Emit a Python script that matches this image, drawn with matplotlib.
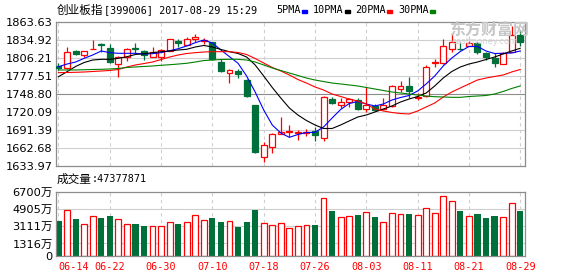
import numpy as np
import matplotlib.pyplot as plt
from matplotlib.patches import Rectangle

plt.rcParams['font.family'] = ['DejaVu Sans', 'Noto Sans CJK SC']

# daily candles, 2017-06-14 .. 2017-08-29
opens = [1794.2, 1789.8, 1817.4, 1810.5, 1820.1, 1829.0, 1821.7, 1796.6, 1807.3, 1822.6,
         1817.4, 1808.3, 1808.3, 1817.9, 1833.8, 1826.9, 1836.0, 1833.3, 1831.3, 1799.8,
         1782.3, 1785.0, 1771.1, 1731.2, 1647.8, 1663.8, 1684.5, 1687.7, 1686.1, 1687.1,
         1690.3, 1678.1, 1740.8, 1731.7, 1736.5, 1739.2, 1724.9, 1730.1, 1724.4, 1729.7,
         1756.8, 1761.1, 1741.9, 1745.6, 1798.2, 1797.8, 1820.1, 1821.0, 1825.3, 1829.6,
         1813.7, 1805.7, 1796.2, 1816.3, 1842.9]
highs = [1798.2, 1824.2, 1819.0, 1818.0, 1834.9, 1830.6, 1829.0, 1809.4, 1822.6, 1830.1,
         1819.0, 1824.2, 1820.6, 1836.5, 1836.0, 1839.2, 1844.0, 1837.6, 1832.2, 1805.1,
         1788.2, 1788.2, 1772.2, 1731.7, 1671.7, 1686.6, 1712.6, 1699.4, 1691.4, 1693.0,
         1696.6, 1745.6, 1743.5, 1741.9, 1742.9, 1742.9, 1759.5, 1732.4, 1742.9, 1763.1,
         1769.5, 1776.4, 1749.9, 1795.0, 1804.1, 1836.5, 1845.6, 1832.2, 1833.3, 1831.3,
         1816.3, 1813.7, 1816.3, 1857.7, 1850.9]
lows = [1787.1, 1789.0, 1810.5, 1808.3, 1820.1, 1816.3, 1798.2, 1776.4, 1801.9, 1814.7,
        1803.0, 1808.3, 1801.4, 1817.4, 1824.2, 1826.9, 1831.3, 1828.1, 1803.0, 1783.9,
        1765.9, 1774.8, 1743.5, 1655.2, 1640.8, 1654.2, 1684.5, 1680.7, 1675.4, 1681.8,
        1674.3, 1674.3, 1732.4, 1726.0, 1728.5, 1723.3, 1720.6, 1721.2, 1723.3, 1728.5,
        1752.5, 1741.9, 1739.2, 1744.5, 1792.3, 1796.6, 1816.3, 1819.0, 1825.3, 1812.1,
        1803.0, 1792.3, 1796.2, 1815.3, 1825.3]
closes = [1790.3, 1815.3, 1812.1, 1817.4, 1821.0, 1826.5, 1799.4, 1807.8, 1821.0, 1820.6,
          1810.5, 1816.3, 1819.0, 1836.0, 1830.6, 1836.0, 1840.2, 1834.4, 1804.1, 1785.0,
          1787.1, 1780.2, 1745.6, 1656.8, 1666.9, 1685.0, 1688.2, 1689.8, 1687.7, 1688.7,
          1683.0, 1743.5, 1734.4, 1736.0, 1740.3, 1725.4, 1731.2, 1723.3, 1731.2, 1762.0,
          1762.0, 1753.6, 1744.0, 1792.3, 1799.8, 1825.3, 1832.2, 1820.1, 1829.6, 1816.3,
          1808.3, 1797.8, 1814.7, 1842.9, 1831.3]
# volume in 万
volumes = [3665, 4816, 3874, 3319, 4157, 4010, 4188, 3874, 3350, 3382,
           3172, 3141, 3141, 3560, 3382, 3560, 4293, 3769, 4010, 3560,
           3665, 3036, 3560, 4816, 3434, 3246, 3424, 2900, 3141, 3246,
           3246, 6041, 4712, 4052, 4188, 4293, 4575, 4083, 3528, 4471,
           4366, 4397, 4261, 4994, 4471, 6251, 5759, 4712, 4157, 4397,
           3979, 4188, 4052, 5518, 4738]

ma5 = [1792.3, 1796.6, 1799.8, 1805.7, 1811.0, 1817.4, 1814.7, 1813.7, 1813.7, 1813.7,
       1812.6, 1813.1, 1814.7, 1817.9, 1821.0, 1825.4, 1830.6, 1834.9, 1830.1, 1819.0,
       1808.3, 1797.8, 1777.5, 1752.0, 1723.3, 1699.4, 1686.6, 1679.7, 1684.2, 1687.4,
       1687.7, 1696.2, 1710.5, 1724.1, 1733.6, 1736.8, 1732.9, 1729.7, 1732.9, 1739.2,
       1743.2, 1746.4, 1753.6, 1764.8, 1777.5, 1793.5, 1806.2, 1816.6, 1824.6, 1824.6,
       1817.4, 1813.4, 1813.7, 1814.2, 1817.4]
ma10 = [1776.4, 1784.4, 1792.7, 1799.0, 1803.0, 1804.1, 1804.1, 1805.7, 1808.3, 1811.8,
        1813.1, 1814.7, 1816.3, 1817.4, 1819.0, 1820.1, 1823.8, 1826.2, 1823.8, 1819.8,
        1816.3, 1813.4, 1807.8, 1795.1, 1777.5, 1759.2, 1742.4, 1726.5, 1715.3, 1706.5,
        1699.4, 1693.8, 1693.8, 1699.4, 1705.8, 1712.1, 1715.3, 1720.1, 1724.9, 1729.7,
        1736.0, 1740.8, 1744.8, 1750.4, 1761.6, 1774.3, 1784.7, 1791.9, 1796.6, 1799.8,
        1803.8, 1807.8, 1812.6, 1817.4, 1821.7]
ma20 = [1782.8, 1783.1, 1783.4, 1783.9, 1784.7, 1785.5, 1786.3, 1787.9, 1791.9, 1795.1,
        1797.4, 1799.8, 1803.8, 1807.8, 1811.0, 1813.4, 1814.7, 1815.8, 1816.3, 1816.3,
        1816.3, 1815.0, 1811.8, 1805.4, 1798.2, 1791.1, 1785.5, 1779.1, 1771.9, 1766.3,
        1760.0, 1755.2, 1748.8, 1744.8, 1740.8, 1737.6, 1732.9, 1724.9, 1721.7, 1719.3,
        1717.7, 1716.9, 1721.7, 1728.1, 1734.4, 1744.0, 1752.0, 1758.4, 1764.8, 1771.1,
        1774.3, 1776.7, 1779.1, 1783.9, 1787.9]
ma30 = [1787.1, 1787.1, 1787.1, 1787.5, 1787.9, 1788.2, 1788.7, 1789.5, 1791.1, 1791.9,
        1792.7, 1793.5, 1794.6, 1795.5, 1796.6, 1797.8, 1799.8, 1802.2, 1803.0, 1803.8,
        1804.1, 1804.1, 1803.0, 1799.8, 1795.1, 1790.3, 1786.3, 1782.3, 1778.3, 1774.3,
        1771.1, 1768.7, 1766.3, 1764.8, 1763.2, 1761.6, 1759.2, 1756.8, 1754.4, 1752.0,
        1750.4, 1748.8, 1747.2, 1745.6, 1744.5, 1744.0, 1743.5, 1743.5, 1744.8, 1745.6,
        1746.4, 1748.8, 1752.8, 1757.6, 1761.6]

date_labels = ["06-14", "06-22", "06-30", "07-10", "07-18",
               "07-26", "08-03", "08-11", "08-21", "08-29"]
price_ticks = [1863.63, 1834.92, 1806.21, 1777.51, 1748.80,
               1720.09, 1691.39, 1662.68, 1633.97]
vol_ticks = [6700, 4905, 3111, 1316, 0]

W, H = 578, 276
RED = '#ff0000'
GREEN = '#00703a'
FRAME = '#8c8c8c'
GRID = '#cfcfcf'


def fx(px):
    return px / W


def fy(py):
    return 1 - py / H


fig = plt.figure(figsize=(W / 100, H / 100), dpi=100)
ax = fig.add_axes([fx(55.5), fy(166), (525 - 55.5) / W, 144 / H])
axv = fig.add_axes([fx(55.5), fy(256), (525 - 55.5) / W, 64 / H])

x = np.arange(len(closes))
up = np.array(closes) >= np.array(opens)
grid_idx = np.arange(0, len(closes), 6)

# ---- price panel
for p in price_ticks[1:-1]:
    ax.axhline(p, color=FRAME if p == 1748.80 else GRID, lw=0.8, zorder=0)
for g in grid_idx:
    ax.axvline(g, color=GRID, lw=0.8, ls=(0, (3, 3)), zorder=0)

for i in x:
    col = RED if up[i] else GREEN
    ax.vlines(i, lows[i], highs[i], color=col, lw=0.9, zorder=2)
    lo = min(opens[i], closes[i])
    h = max(abs(closes[i] - opens[i]), 0.5)
    ax.bar(i, h, bottom=lo, width=0.7, facecolor='white' if up[i] else GREEN,
           edgecolor=col, lw=0.9, zorder=3)

ax.plot(x, ma5, color='#0000ff', lw=0.8, zorder=4)
ax.plot(x, ma10, color='black', lw=0.8, zorder=4)
ax.plot(x, ma20, color='#ff0000', lw=0.8, zorder=4)
ax.plot(x, ma30, color='#008000', lw=0.8, zorder=4)

ax.set_xlim(-0.35, 54.56)
ax.set_ylim(price_ticks[-1], price_ticks[0])
ax.set_yticks(price_ticks)
ax.set_yticklabels(['%.2f' % p for p in price_ticks], fontsize=8.2)
ax.set_xticks([])
ax.tick_params(axis='y', length=0, pad=2)

# ---- volume panel
for v in vol_ticks[1:-1]:
    axv.axhline(v, color=GRID, lw=0.8, zorder=0)
for g in grid_idx:
    axv.axvline(g, color=GRID, lw=0.8, ls=(0, (3, 3)), zorder=0)
axv.bar(x[up], np.array(volumes)[up], width=0.68, facecolor='white',
        edgecolor=RED, lw=0.9, zorder=2)
axv.bar(x[~up], np.array(volumes)[~up], width=0.72, color=GREEN, zorder=2)
axv.set_xlim(-0.35, 54.56)
axv.set_ylim(0, 6700)
axv.set_yticks(vol_ticks)
axv.set_yticklabels([('%d万' % v) if v else '0' for v in vol_ticks], fontsize=8.2)
axv.set_xticks(grid_idx)
axv.set_xticklabels(date_labels, color=RED, fontsize=7.3, family='DejaVu Sans Mono')
axv.get_xticklabels()[0].set_ha('left')
axv.tick_params(axis='y', length=0, pad=2)
axv.tick_params(axis='x', length=0, pad=4)

for a in (ax, axv):
    for s in a.spines.values():
        s.set_color(FRAME)
        s.set_linewidth(0.9)

# ---- header texts
fig.text(fx(57), fy(10), '创业板指', family='Noto Sans CJK SC', fontsize=8.4, va='center')
fig.text(fx(104), fy(10), '[399006] 2017-08-29 15:29', family='DejaVu Sans Mono',
         fontsize=7.3, va='center')

legend = [('5PMA', 276, '#0000ff'), ('10PMA', 313, 'black'),
          ('20PMA', 355, '#ff0000'), ('30PMA', 398, '#008000')]
for name, lx, c in legend:
    fig.text(fx(lx), fy(10), name, family='DejaVu Sans Mono', fontsize=7.3, va='center')
    dx = lx + 6 * len(name) + 2
    fig.add_artist(Rectangle((fx(dx), fy(12.5)), 5 / W, 2.5 / H, color=c,
                             transform=fig.transFigure))

fig.text(fx(57), fy(179), '成交量', family='Noto Sans CJK SC', fontsize=8.4, va='center')
fig.text(fx(92), fy(179), ':47377871', family='DejaVu Sans Mono', fontsize=7.3, va='center')

# watermark
fig.text(fx(449), fy(30), '东方财富网', family='Noto Sans CJK SC', fontsize=11.5,
         fontweight='bold', color='#c6c6c6', va='center', zorder=1)
fig.text(fx(452), fy(42), 'eastmoney.com', fontsize=6, color='#d2d2d2', va='center', zorder=1)

fig.savefig('out.png', dpi=100)
